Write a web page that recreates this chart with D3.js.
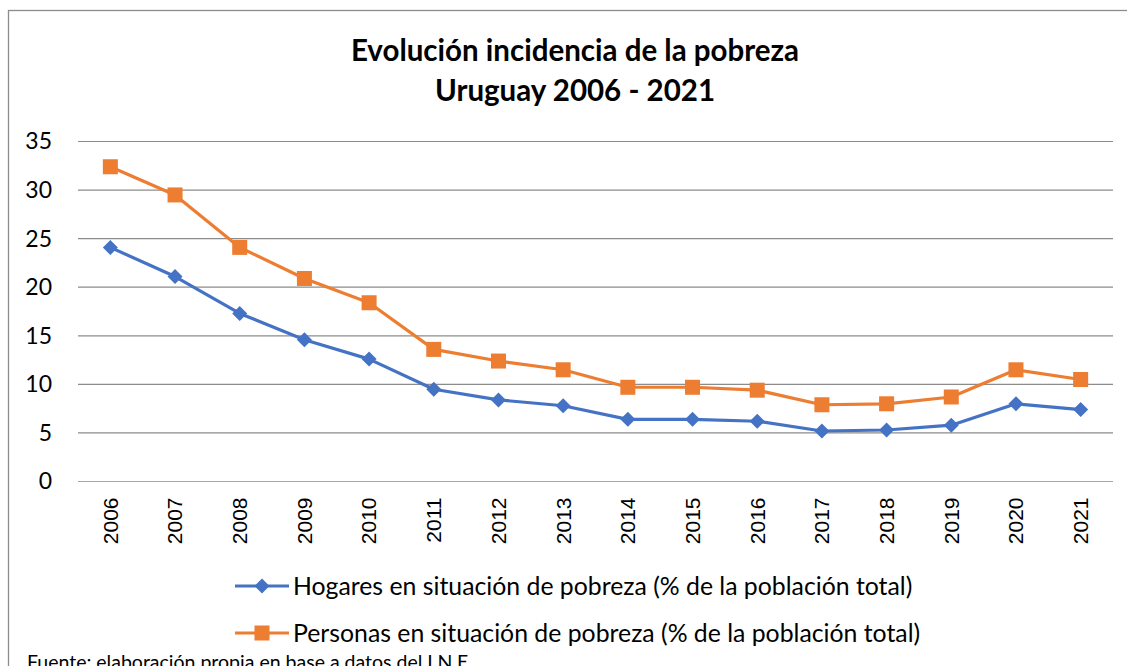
<!DOCTYPE html>
<html><head><meta charset="utf-8">
<script src="https://cdn.jsdelivr.net/npm/d3@7/dist/d3.min.js"></script>
<style>body{margin:0;background:#fff;}svg{display:block;}</style>
</head><body>
<svg id="c" width="1127" height="666"></svg>
<script>
const years = ["2006","2007","2008","2009","2010","2011","2012","2013","2014","2015","2016","2017","2018","2019","2020","2021"];
const hogares = [24.1,21.1,17.3,14.6,12.6,9.5,8.4,7.8,6.4,6.4,6.2,5.2,5.3,5.8,8.0,7.4];
const personas = [32.4,29.5,24.1,20.9,18.4,13.6,12.4,11.5,9.7,9.7,9.4,7.9,8.0,8.7,11.5,10.5];
const yTicks = [0,5,10,15,20,25,30,35];
const titleLines = ["Evolución incidencia de la pobreza","Uruguay 2006 - 2021"];
const seriesNames = ["Hogares en situación de pobreza (% de la población total)","Personas en situación de pobreza (% de la población total)"];
const source = "Fuente: elaboración propia en base a datos del I.N.E.";

const svg = d3.select("#c");
const pL=78,pR=1113,pT=141.5,pB=481.5;
const blue="#4472C4", orange="#ED7D31";
const cal = "Lato, 'Open Sans', sans-serif";

// border
svg.append("rect").attr("x",8.5).attr("y",10.5).attr("width",1130).attr("height",700)
  .attr("fill","none").attr("stroke","#8c8c8c").attr("stroke-width",1.3);

const x = d3.scaleBand().domain(years).range([pL,pR]);
const y = d3.scaleLinear().domain([0,35]).range([pB,pT]);

// title
svg.append("text").attr("text-anchor","middle")
  .attr("font-family",cal).attr("font-weight","bold").attr("font-size",29.5).attr("fill","#000")
  .selectAll("tspan").data(titleLines).join("tspan")
  .attr("x",575).attr("y",(d,i)=>61+i*40).text(d=>d);

// grid
svg.append("g").selectAll("line").data(yTicks).join("line")
  .attr("x1",pL).attr("x2",pR).attr("y1",d=>y(d)).attr("y2",d=>y(d))
  .attr("stroke",d=>d===0?"#a6a6a6":"#8c8c8c").attr("stroke-width",1.2);

// y axis
const ya = svg.append("g").attr("transform",`translate(${pL},0)`)
  .call(d3.axisLeft(y).tickValues(yTicks).tickSize(0).tickPadding(26));
ya.select(".domain").remove();
ya.selectAll("text").attr("font-family",cal).attr("font-size",23).attr("fill","#000");

// x axis
const xa = svg.append("g").attr("transform",`translate(0,${pB})`)
  .call(d3.axisBottom(x).tickSize(0));
xa.select(".domain").remove();
xa.selectAll("text").attr("font-family","'Liberation Sans', Arial, sans-serif").attr("font-size",21).attr("fill","#000")
  .attr("transform","rotate(-90)").attr("text-anchor","end").attr("dx","-16px").attr("dy","0.35em").attr("x",0).attr("y",0);

const line = d3.line().x((d,i)=>x(years[i])+x.bandwidth()/2).y(d=>y(d));
svg.append("path").datum(hogares).attr("d",line).attr("fill","none").attr("stroke",blue).attr("stroke-width",3.2).attr("stroke-linejoin","round");
svg.append("path").datum(personas).attr("d",line).attr("fill","none").attr("stroke",orange).attr("stroke-width",3.2).attr("stroke-linejoin","round");

const diamond = "M0,-7.5L7.5,0L0,7.5L-7.5,0Z";
svg.append("g").selectAll("path").data(hogares).join("path")
  .attr("d",diamond).attr("fill",blue)
  .attr("transform",(d,i)=>`translate(${x(years[i])+x.bandwidth()/2},${y(d)})`);
svg.append("g").selectAll("rect").data(personas).join("rect")
  .attr("width",15).attr("height",15).attr("fill",orange)
  .attr("x",(d,i)=>x(years[i])+x.bandwidth()/2-7.5).attr("y",d=>y(d)-7.5);

// legend
const lg = svg.append("g");
[0,1].forEach(i=>{
  const ly = 586 + i*47;
  lg.append("line").attr("x1",235).attr("x2",289).attr("y1",ly).attr("y2",ly).attr("stroke",i?orange:blue).attr("stroke-width",3.2);
  if(i===0) lg.append("path").attr("d",diamond).attr("fill",blue).attr("transform",`translate(262,${ly})`);
  else lg.append("rect").attr("x",254.5).attr("y",ly-7.5).attr("width",15).attr("height",15).attr("fill",orange);
  lg.append("text").attr("x",293).attr("y",ly+8.5).attr("font-family",cal).attr("font-size",24.8).attr("fill","#000").text(seriesNames[i]);
});

svg.append("text").attr("x",27).attr("y",669).attr("font-family",cal).attr("font-size",19.5).attr("fill","#000").text(source);
</script>
</body></html>
